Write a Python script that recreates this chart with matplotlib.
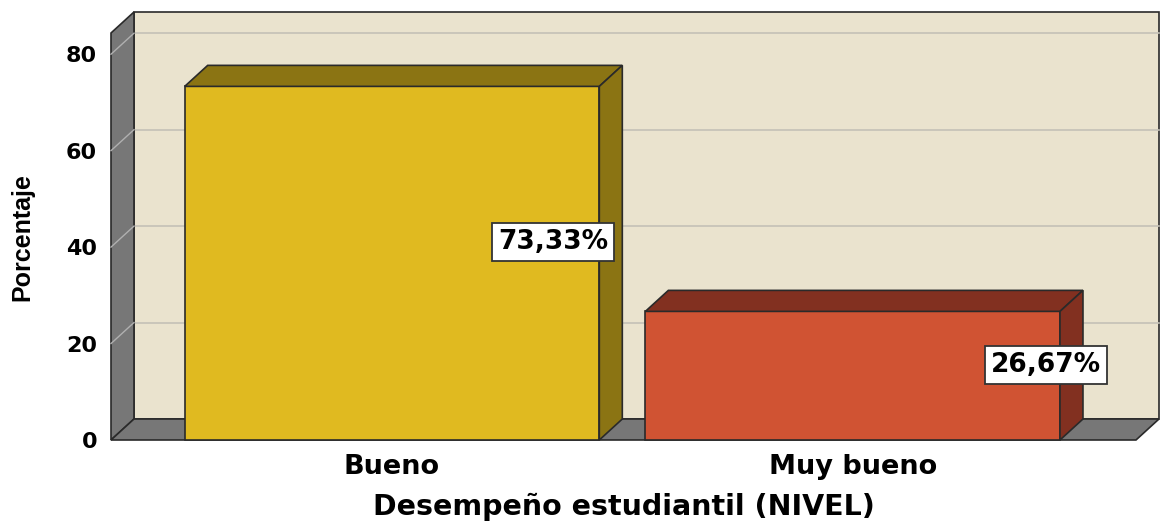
import matplotlib
matplotlib.use("Agg")
import matplotlib.pyplot as plt
from matplotlib.patches import Polygon, Rectangle

# data
categories = ['Bueno', 'Muy bueno']
percentages = [73.33, 26.67]
value_labels = ['73,33%', '26,67%']
yticks = [0, 20, 40, 60, 80]

# styles
face_colors = ['#E0BA20', '#D05333']
shade_colors = ['#8B7413', '#823020']
wall_color = '#EAE3CE'
side_color = '#777777'
edge = '#2a2a2a'
bar_width = 0.9

# label placement (offset from bar centre in x, y in data units)
label_pos = [(0.35, 41.0), (0.42, 15.6)]

fig = plt.figure(figsize=(11.6, 5.24), dpi=100)
# axes spans the front plane of the 3D box
ax = fig.add_axes([111 / 1160, (524 - 440) / 524, (1136 - 111) / 1160, (440 - 33) / 524])
x0, x1 = -0.61, 1.615
ymax = 84.4
ax.set_xlim(x0, x1)
ax.set_ylim(0, ymax)

# depth offset in data units (~23 px right, ~21 px up)
dx = 23 / 461
dy = 21 / 4.82

# back wall
ax.add_patch(Rectangle((x0 + dx, dy), x1 - x0, ymax, facecolor=wall_color,
                       edgecolor=edge, lw=1.2, clip_on=False, zorder=0))
# left wall
ax.add_patch(Polygon([(x0, 0), (x0 + dx, dy), (x0 + dx, ymax + dy), (x0, ymax)],
                     closed=True, facecolor=side_color, edgecolor=edge, lw=1.2,
                     clip_on=False, zorder=1))
# floor
ax.add_patch(Polygon([(x0, 0), (x1, 0), (x1 + dx, dy), (x0 + dx, dy)],
                     closed=True, facecolor=side_color, edgecolor=edge, lw=1.2,
                     clip_on=False, zorder=1))

# gridlines on back and left walls
for v in yticks[1:]:
    ax.plot([x0 + dx, x1 + dx], [v + dy, v + dy], color='#c4c1b6', lw=1.2,
            clip_on=False, zorder=0.5)
    ax.plot([x0, x0 + dx], [v, v + dy], color='#b0b0b0', lw=1.0,
            clip_on=False, zorder=1.5)

# bars: front face + top + side
xs = list(range(len(categories)))
ax.bar(xs, percentages, width=bar_width, color=face_colors, edgecolor=edge,
       lw=1.2, zorder=3, clip_on=False)
for i, v in enumerate(percentages):
    left = xs[i] - bar_width / 2
    right = xs[i] + bar_width / 2
    ax.add_patch(Polygon([(left, v), (right, v), (right + dx, v + dy), (left + dx, v + dy)],
                         closed=True, facecolor=shade_colors[i], edgecolor=edge,
                         lw=1.2, zorder=3, clip_on=False))
    ax.add_patch(Polygon([(right, 0), (right + dx, dy), (right + dx, v + dy), (right, v)],
                         closed=True, facecolor=shade_colors[i], edgecolor=edge,
                         lw=1.2, zorder=3, clip_on=False))
    ox, oy = label_pos[i]
    ax.text(xs[i] + ox, oy, value_labels[i], ha='center', va='center',
            fontsize=19, fontweight='bold', family='DejaVu Sans', zorder=5,
            bbox=dict(boxstyle='square,pad=0.22', facecolor='white',
                      edgecolor='#333333', lw=1.3))

for s in ax.spines.values():
    s.set_visible(False)
ax.set_facecolor('none')

ax.set_yticks(yticks)
ax.set_yticklabels([str(t) for t in yticks], fontsize=16, fontweight='bold',
                   family='DejaVu Sans')
ax.set_xticks(xs)
ax.set_xticklabels(categories, fontsize=19.5, fontweight='bold', family='DejaVu Sans')
ax.tick_params(axis='y', length=0, pad=10)
ax.tick_params(axis='x', length=0, pad=10)

ax.set_xlabel('Desempeño estudiantil (NIVEL)', fontsize=20.5, fontweight='bold',
              family='DejaVu Sans', labelpad=9)
fig.text(22 / 1160, 1 - 237 / 524, 'Porcentaje', rotation=90, ha='center', va='center',
         fontsize=18, fontweight='bold', family='Liberation Sans')

fig.savefig('out.png', dpi=100)
